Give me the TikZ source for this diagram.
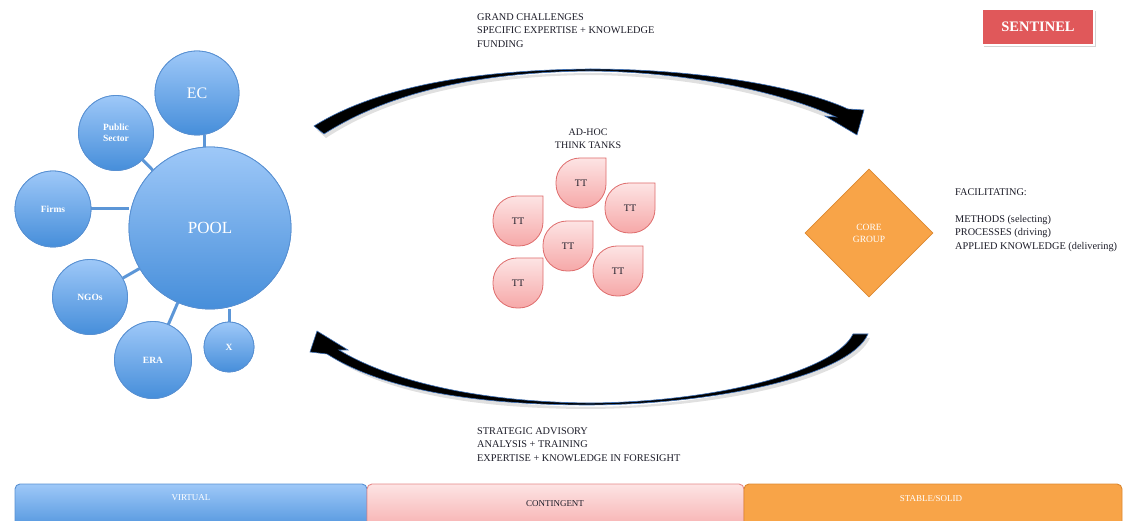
\documentclass[tikz,border=0pt]{standalone}
\usepackage{fontspec}
\setmainfont{Liberation Serif}
\usetikzlibrary{shapes.geometric,shadows}

\definecolor{bluetop}{RGB}{158,200,248}
\definecolor{bluebot}{RGB}{70,142,218}
\definecolor{blueedge}{RGB}{88,144,210}
\definecolor{bluelink}{RGB}{92,150,215}
\definecolor{pinktop}{RGB}{253,228,228}
\definecolor{pinkbot}{RGB}{246,168,168}
\definecolor{pinkedge}{RGB}{222,108,108}
\definecolor{orangefill}{RGB}{248,164,72}
\definecolor{orangeedge}{RGB}{220,136,48}
\definecolor{sentred}{RGB}{224,88,90}
\definecolor{textdark}{RGB}{28,28,40}
\definecolor{arrowedge}{RGB}{62,112,182}

\begin{document}
\begin{tikzpicture}[x=1pt,y=-1pt,
  bubble/.style={circle,inner sep=0pt,draw=blueedge,line width=0.8pt,
    top color=bluetop,bottom color=bluebot,text=white,align=center},
  smalltxt/.style={font=\fontsize{9.5}{11}\selectfont\bfseries},
  link/.style={draw=bluelink,line width=3pt},
  dropfill/.style={draw=pinkedge,line width=0.8pt,top color=pinktop,bottom color=pinkbot},
  ttlabel/.style={text=textdark,font=\fontsize{10}{12}\selectfont},
  infotext/.style={text=textdark,align=left,font=\fontsize{10.3}{13.6}\selectfont,inner sep=0pt},
  bigarrow/.style={fill=black,draw=arrowedge,line width=0.6pt},
  arrowshadow/.style={fill=black,opacity=0.12},
  barbox/.style={line width=0.9pt,rounded corners=5pt},
  drop/.pic={
    \path[dropfill] (25,-25) -- (-1,-25) arc[start angle=270,end angle=180,radius=24]
      -- (-25,1) arc[start angle=180,end angle=90,radius=24]
      -- (1,25) arc[start angle=90,end angle=0,radius=24] -- cycle;
    \node[ttlabel] (-tt) at (0,0) {TT};
  }
]
\useasboundingbox (0,0) rectangle (1136,521);

% ---------- pool of actors ----------
\node[bubble,minimum size=162pt] (pool) at (210,228) {};
\node[bubble,minimum size=84pt] (ec) at (197,93) {};
\node[bubble,minimum size=75pt] (pub) at (116,133) {};
\node[bubble,minimum size=76pt] (firms) at (53,209) {};
\node[bubble,minimum size=75pt] (ngo) at (90,297) {};
\node[bubble,minimum size=77pt] (era) at (153,360) {};
\node[bubble,minimum size=50pt] (x) at (229,347) {};

% links between the pool and its members
\draw[link] (pub) -- (pool);
\draw[link] (firms.east) -- (pool.west |- firms.east);
\draw[link] (ngo) -- (pool);
\draw[link] (era) -- (pool);
\draw[link] (x.north) -- (x.north |- pool.south);
\draw[link] ([xshift=7pt]ec.south) -- ([xshift=7pt]ec.south |- pool.north);

% bubbles on top of the links
\node[bubble,minimum size=162pt,font=\fontsize{17}{20}\selectfont] (poolb) at (pool) {POOL};
\node[bubble,minimum size=84pt,font=\fontsize{16}{19}\selectfont] (ecb) at (ec) {EC};
\node[bubble,minimum size=75pt,smalltxt] (pubb) at (pub) {Public\\Sector};
\node[bubble,minimum size=76pt,smalltxt] (firmsb) at (firms) {Firms};
\node[bubble,minimum size=75pt,smalltxt] (ngob) at (ngo) {NGOs};
\node[bubble,minimum size=77pt,smalltxt] (erab) at (era) {ERA};
\node[bubble,minimum size=50pt,smalltxt] (xb) at (x) {X};

% ---------- flows ----------
\node[infotext,anchor=north west] (top) at (477,13)
  {GRAND CHALLENGES\\SPECIFIC EXPERTISE + KNOWLEDGE\\FUNDING};
\node[infotext,anchor=north west] (bottom) at (477,427)
  {STRATEGIC ADVISORY\\ANALYSIS + TRAINING\\EXPERTISE + KNOWLEDGE IN FORESIGHT};

% upper curved arrow (pool -> core group)
\path[arrowshadow] (317,130) .. controls (380,89) and (480,74) .. (590,73)
  .. controls (700,73) and (800,92) .. (851,117) -- (839,123)
  .. controls (790,100) and (700,76) .. (590,75)
  .. controls (480,76) and (390,96) .. (326,138) -- cycle;
\path[bigarrow] (314,126) .. controls (380,85) and (480,70) .. (590,69)
  .. controls (700,69) and (800,87) .. (848,109)
  -- (864,110) -- (857,135) -- (825,116) -- (836,117)
  .. controls (790,96) and (700,72) .. (590,71)
  .. controls (480,72) and (390,92) .. (324,134) -- cycle;

% lower curved arrow (core group -> pool)
\path[arrowshadow] (870,338) .. controls (852,379) and (720,408) .. (590,409)
  .. controls (470,409) and (380,391) .. (332,357) -- (342,351)
  .. controls (385,382) and (470,406) .. (590,407)
  .. controls (720,406) and (838,374) .. (855,338) -- cycle;
\path[bigarrow] (868,334) .. controls (850,375) and (720,404) .. (590,405)
  .. controls (470,405) and (380,388) .. (327,354)
  -- (310,352) -- (317,331) -- (348,350) -- (339,350)
  .. controls (385,378) and (470,402) .. (590,403)
  .. controls (720,402) and (836,370) .. (853,334) -- cycle;

% ---------- think tanks ----------
\node[text=textdark,align=center,font=\fontsize{10}{13}\selectfont] (adhoc) at (588,139) {AD-HOC\\THINK TANKS};
\pic (t1) at (581,183) {drop};
\pic (t2) at (630,208) {drop};
\pic (t3) at (518,221) {drop};
\pic (t4) at (568,246) {drop};
\pic (t5) at (518,283) {drop};
\pic (t6) at (618,271) {drop};

% ---------- core group ----------
\node[diamond,aspect=1,minimum size=128pt,inner sep=0pt,fill=orangefill,draw=orangeedge,line width=0.8pt,
  text=white,align=center,font=\fontsize{9.5}{12}\selectfont] (core) at (869,233) {CORE\\GROUP};
\node[infotext,anchor=north west] (facil) at (955,188)
  {FACILITATING:\\[13.6pt]METHODS (selecting)\\PROCESSES (driving)\\APPLIED KNOWLEDGE (delivering)};

% ---------- label ----------
\node[fill=sentred,draw=white,line width=2.5pt,minimum width=112pt,minimum height=36pt,
  drop shadow={shadow xshift=1.5pt,shadow yshift=-2pt,opacity=0.35},
  text=white,font=\fontsize{14.5}{16}\selectfont\bfseries] (sentinel) at (1038,27) {SENTINEL};

% ---------- stability bars ----------
\path[barbox,draw=blueedge,top color=bluetop,bottom color=bluebot] (15,484) rectangle (367,535);
\path[barbox,draw=pinkedge!80,top color=pinktop,bottom color=pinkbot] (367,484) rectangle (744,535);
\path[barbox,draw=orangeedge,fill=orangefill] (744,484) rectangle (1122,535);
\node[text=white,font=\fontsize{9}{11}\selectfont] (virt) at (191,498) {VIRTUAL};
\node[text=textdark,font=\fontsize{9}{11}\selectfont] (cont) at (555,504) {CONTINGENT};
\node[text=white,font=\fontsize{9}{11}\selectfont] (stab) at (931,499) {STABLE/SOLID};
\end{tikzpicture}
\end{document}
